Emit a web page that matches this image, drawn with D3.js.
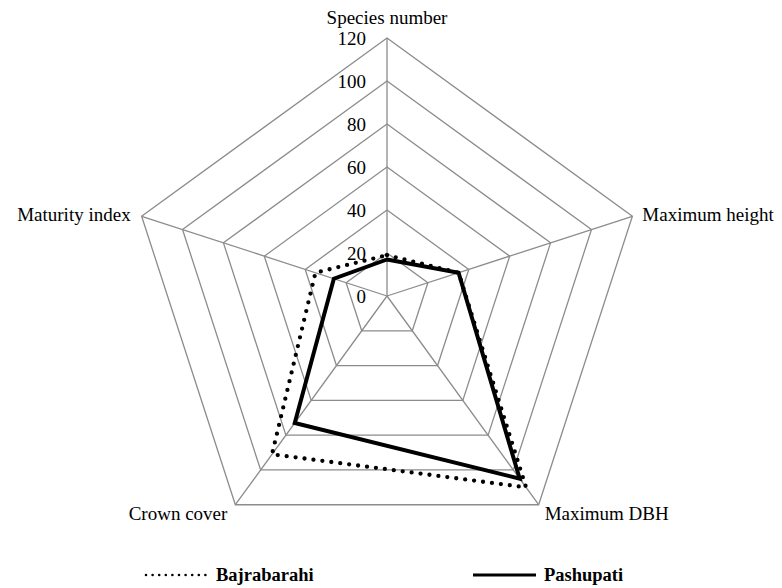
<html>
<head>
<meta charset="utf-8">
<script src="https://cdn.jsdelivr.net/npm/d3@7"></script>
</head>
<body style="margin:0">
<svg id="chart" width="782" height="588"></svg>
<script>
const axes = ["Species number", "Maximum height", "Maximum DBH", "Crown cover", "Maturity index"];
const bajrabarahi = [19, 35, 110, 91, 35];
const pashupati = [17, 35, 105, 73, 26];
const ticks = [0, 20, 40, 60, 80, 100, 120];
const seriesNames = ["Bajrabarahi", "Pashupati"];

const cx = 387, cy = 296, R = 258;
const svg = d3.select("#chart");

const r = d3.scaleLinear().domain([0, 120]).range([0, R]);
const ang = d3.scaleLinear().domain([0, axes.length]).range([0, 2 * Math.PI]);

const g = svg.append("g").attr("transform", `translate(${cx},${cy})`);
const pt = (i, v) => [Math.sin(ang(i)) * r(v), -Math.cos(ang(i)) * r(v)];

function label(sel, x, y, size, txt, anchor, bold) {
  const t = sel.append("text")
    .attr("x", x).attr("y", y)
    .attr("font-size", size)
    .attr("font-family", "Liberation Serif")
    .style("font-family", '"Liberation Serif"')
    .attr("text-anchor", anchor)
    .attr("fill", "#000")
    .text(txt);
  if (bold) t.attr("font-weight", "bold");
  return t;
}

// grid pentagons
const gridLine = d3.line().curve(d3.curveLinearClosed);
ticks.filter(t => t > 0).forEach(t => {
  g.append("path")
    .attr("d", gridLine(axes.map((a, i) => pt(i, t))))
    .attr("fill", "none")
    .attr("stroke", "#8c8c8c")
    .attr("stroke-width", 1.3);
});
// spokes
axes.forEach((a, i) => {
  const p = pt(i, 120);
  g.append("line").attr("x1", 0).attr("y1", 0).attr("x2", p[0]).attr("y2", p[1])
    .attr("stroke", "#8c8c8c").attr("stroke-width", 1.3);
});

// tick labels
ticks.forEach(t => label(g, -21, -r(t) + 7, 19, t, "end", false));

// series
const radial = d3.lineRadial().angle((d, i) => ang(i)).radius(d => r(d)).curve(d3.curveLinearClosed);
g.append("path").attr("d", radial(pashupati))
  .attr("fill", "none").attr("stroke", "#000").attr("stroke-width", 4)
  .attr("stroke-linejoin", "miter");
g.append("path").attr("d", radial(bajrabarahi))
  .attr("fill", "none").attr("stroke", "#000").attr("stroke-width", 4.3)
  .attr("stroke-linecap", "round").attr("stroke-dasharray", "0 9");

// axis labels
const labelPos = [
  { dx: 0, dy: -272, anchor: "middle" },
  { dx: 10, dy: 5, anchor: "start" },
  { dx: 6, dy: 15, anchor: "start" },
  { dx: -8, dy: 15, anchor: "end" },
  { dx: -11, dy: 5, anchor: "end" }
];
axes.forEach((a, i) => {
  const p = pt(i, 120);
  const lp = labelPos[i];
  label(g, i === 0 ? 0 : p[0] + lp.dx, i === 0 ? lp.dy : p[1] + lp.dy, 19, a, lp.anchor, false);
});

// legend
const leg = svg.append("g");
leg.append("line").attr("x1", 146).attr("x2", 206).attr("y1", 575).attr("y2", 575)
  .attr("stroke", "#000").attr("stroke-width", 2.6)
  .attr("stroke-linecap", "round").attr("stroke-dasharray", "0 6.6");
label(leg, 216, 581, 18.5, seriesNames[0], "start", true);
leg.append("line").attr("x1", 473).attr("x2", 536).attr("y1", 575).attr("y2", 575)
  .attr("stroke", "#000").attr("stroke-width", 3);
label(leg, 544, 581, 18.5, seriesNames[1], "start", true);
</script>
</body>
</html>
